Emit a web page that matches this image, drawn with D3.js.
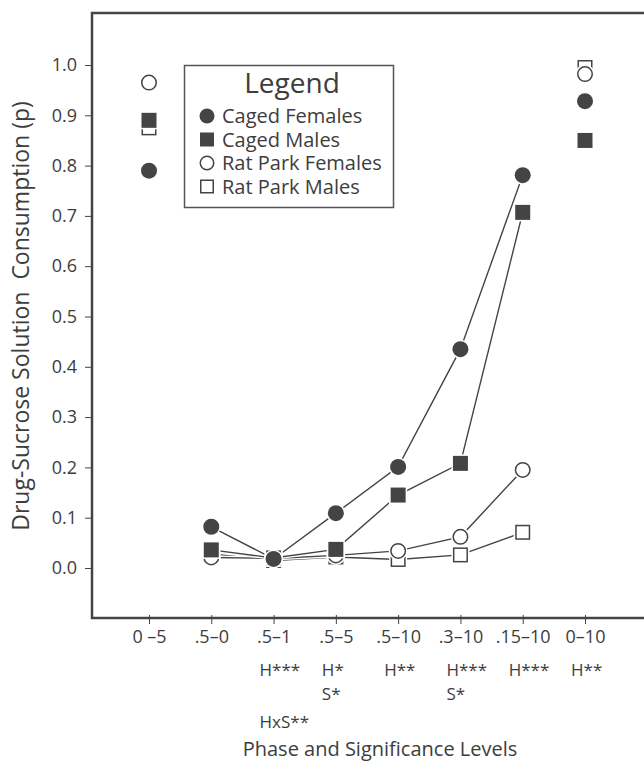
<!DOCTYPE html>
<html>
<head>
<meta charset="utf-8">
<script src="https://cdn.jsdelivr.net/npm/d3@7"></script>
<style>
  body { margin: 0; background: #fff; }
  svg text { font-family: "Open Sans", sans-serif; fill: #3d3d3d; }
</style>
</head>
<body>
<div id="chart"></div>
<script>
// phases along the x axis
var phases = ["0 \u20135", ".5\u20130", ".5\u20131", ".5\u20135", ".5\u201310", ".3\u201310", ".15\u201310", "0\u201310"];

// significance lines under each phase
var sigRow1 = ["", "", "H***", "H*", "H**", "H***", "H***", "H**"];
var sigRow2 = ["", "", "", "S*", "", "S*", "", ""];
var sigRow3 = ["", "", "HxS**", "", "", "", "", ""];

// proportion of drug-sucrose solution consumed
var cagedFemales   = [0.79, 0.082, 0.018, 0.109, 0.201, 0.435, 0.781, 0.928];
var cagedMales     = [0.89, 0.036, 0.020, 0.037, 0.145, 0.208, 0.707, 0.850];
var ratParkFemales = [0.965, 0.021, 0.019, 0.025, 0.034, 0.062, 0.195, 0.982];
var ratParkMales   = [0.875, 0.028, 0.015, 0.022, 0.017, 0.026, 0.071, 0.995];

var yTicks = [0, 0.1, 0.2, 0.3, 0.4, 0.5, 0.6, 0.7, 0.8, 0.9, 1.0];

var width = 644, height = 761;
var ink = "#444";

var series = [
  {name: "Rat Park Males",   values: ratParkMales,   shape: "square", filled: false},
  {name: "Rat Park Females", values: ratParkFemales, shape: "circle", filled: false},
  {name: "Caged Males",      values: cagedMales,     shape: "square", filled: true},
  {name: "Caged Females",    values: cagedFemales,   shape: "circle", filled: true}
];
var legendOrder = ["Caged Females", "Caged Males", "Rat Park Females", "Rat Park Males"];

var svg = d3.select("#chart").append("svg")
    .attr("width", width)
    .attr("height", height);

var x = d3.scalePoint()
    .domain(phases)
    .range([149, 585]);

var y = d3.scaleLinear()
    .domain([0, 1])
    .range([568, 65]);

var frameLeft = 92, frameTop = 13, frameBottom = 618;

// y axis ticks + labels
var yAxis = svg.append("g")
    .attr("transform", "translate(" + frameLeft + ",0)")
    .call(d3.axisLeft(y).tickValues(yTicks).tickFormat(d3.format(".1f")).tickSize(7).tickPadding(8));
yAxis.select(".domain").remove();
yAxis.selectAll("line").attr("stroke", ink);
yAxis.selectAll("text")
    .attr("font-size", 18)
    .attr("font-family", "Open Sans")
    .style("fill", "#3d3d3d");

// x axis ticks + labels
var xAxis = svg.append("g")
    .attr("transform", "translate(0," + frameBottom + ")")
    .call(d3.axisBottom(x).tickSize(6).tickPadding(6));
xAxis.select(".domain").remove();
xAxis.selectAll("line").attr("stroke", ink).attr("y1", -3);
xAxis.selectAll("text")
    .attr("font-size", 18)
    .attr("font-family", "Open Sans")
    .attr("y", 12)
    .style("fill", "#3d3d3d");

// frame (left, top, bottom - open on the right)
svg.append("path")
    .attr("d", "M" + width + "," + frameTop + "H" + frameLeft + "V" + frameBottom + "H" + width)
    .attr("fill", "none")
    .attr("stroke", ink)
    .attr("stroke-width", 2.5);

// significance levels
var rowY = [676, 700, 728];
[sigRow1, sigRow2, sigRow3].forEach(function(row, r) {
  svg.append("g").selectAll("text")
      .data(phases)
      .enter().append("text")
      .attr("x", function(d) { return x(d) - 14; })
      .attr("y", rowY[r])
      .attr("font-size", 17)
      .text(function(d, i) { return row[i]; });
});

// axis titles
svg.append("text")
    .attr("x", 380)
    .attr("y", 756)
    .attr("text-anchor", "middle")
    .attr("font-size", 20)
    .text("Phase and Significance Levels");

svg.append("text")
    .attr("transform", "translate(29,316) rotate(-90)")
    .attr("text-anchor", "middle")
    .attr("font-size", 23)
    .text("Drug-Sucrose Solution\u00a0\u00a0Consumption (p)");

// lines, only phases 1..6 are connected
var line = d3.line()
    .x(function(d) { return x(d.phase); })
    .y(function(d) { return y(d.v); });

function linePoints(s) {
  return s.values.map(function(v, i) { return {phase: phases[i], v: v}; }).slice(1, 7);
}

var lines = svg.append("g");
series.forEach(function(s) {
  lines.append("path")
      .attr("d", line(linePoints(s)))
      .attr("fill", "none")
      .attr("stroke", "#fff")
      .attr("stroke-width", 4);
  lines.append("path")
      .attr("d", line(linePoints(s)))
      .attr("fill", "none")
      .attr("stroke", ink)
      .attr("stroke-width", 1.4);
});

// markers
function drawMarker(g, shape, filled, cx, cy, size, halo) {
  if (shape === "circle") {
    var r = size / 2;
    if (halo) g.append("circle").attr("cx", cx).attr("cy", cy).attr("r", r + 1.5).attr("fill", "#fff");
    g.append("circle")
        .attr("cx", cx).attr("cy", cy)
        .attr("r", filled ? r : r - 0.75)
        .attr("fill", filled ? ink : "#fff")
        .attr("stroke", filled ? "none" : ink)
        .attr("stroke-width", 1.5);
  } else {
    var h = size / 2;
    if (halo) g.append("rect").attr("x", cx - h - 1.5).attr("y", cy - h - 1.5).attr("width", size + 3).attr("height", size + 3).attr("fill", "#fff");
    var inset = filled ? 0 : 0.75;
    g.append("rect")
        .attr("x", cx - h + inset).attr("y", cy - h + inset)
        .attr("width", size - 2 * inset).attr("height", size - 2 * inset)
        .attr("fill", filled ? ink : "#fff")
        .attr("stroke", filled ? "none" : ink)
        .attr("stroke-width", 1.5);
  }
}

var marks = svg.append("g");
series.forEach(function(s) {
  s.values.forEach(function(v, i) {
    drawMarker(marks, s.shape, s.filled, x(phases[i]), y(v), s.shape === "circle" ? 16 : 15, true);
  });
});

// legend
var legend = svg.append("g");
legend.append("rect")
    .attr("x", 184.5).attr("y", 65.5)
    .attr("width", 209).attr("height", 142)
    .attr("fill", "#fff")
    .attr("stroke", "#555")
    .attr("stroke-width", 1.5);
legend.append("text")
    .attr("x", 292)
    .attr("y", 93)
    .attr("text-anchor", "middle")
    .attr("font-size", 28)
    .text("Legend");

var legendY = d3.scalePoint().domain(legendOrder).range([123, 193.5]);
legendOrder.forEach(function(name) {
  var s = series.filter(function(d) { return d.name === name; })[0];
  drawMarker(legend, s.shape, s.filled, 207, legendY(name) - 7, s.shape === "circle" ? 15 : 14, false);
  legend.append("text")
      .attr("x", 222)
      .attr("y", legendY(name))
      .attr("font-size", 20)
      .text(name);
});
</script>
</body>
</html>
